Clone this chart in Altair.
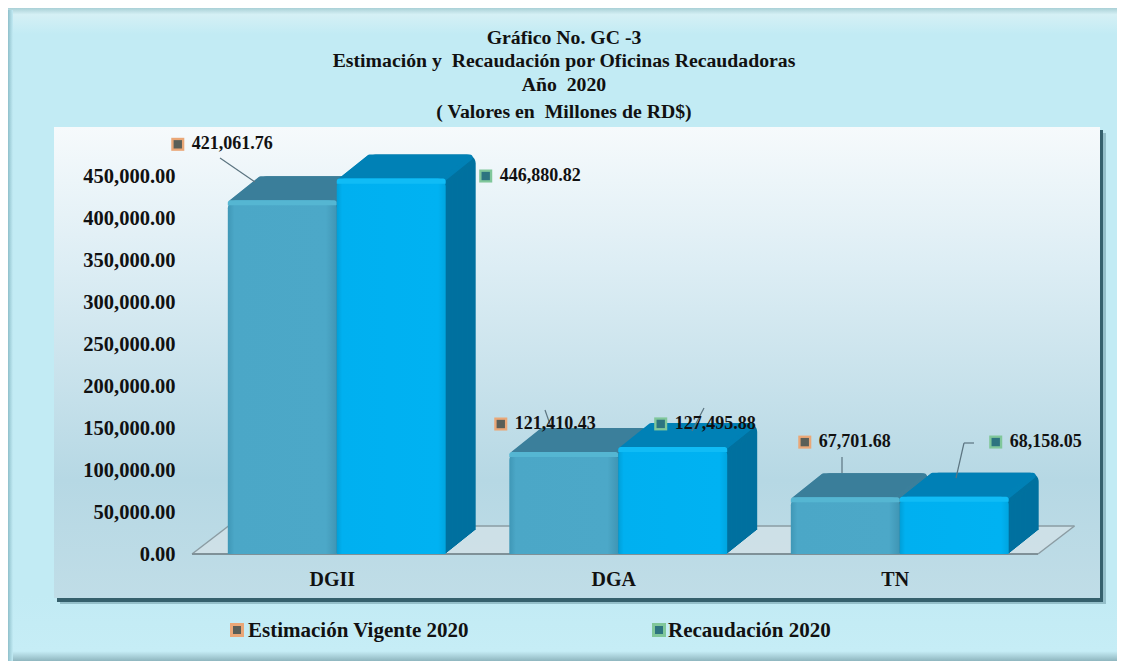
import altair as alt
import pandas as pd

categorias = ["DGII", "DGA", "TN"]
estimacion = [421061.76, 121410.43, 67701.68]
recaudacion = [446880.82, 127495.88, 68158.05]
series = ["Estimación Vigente 2020", "Recaudación 2020"]
titulo = ["Gráfico No. GC -3", "Estimación y \u00a0Recaudación por Oficinas Recaudadoras", "Año \u00a02020", "( Valores en \u00a0Millones de RD$)"]
ticks_y = [0, 50000, 100000, 150000, 200000, 250000, 300000, 350000, 400000, 450000]

ANCHO = 0.387  # bar width as a share of a category
rows = []
for i, (c, e, r) in enumerate(zip(categorias, estimacion, recaudacion)):
    m = i + 0.5
    rows.append({"cat": c, "serie": series[0], "valor": e, "cero": 0, "ini": m - ANCHO, "fin": m, "centro": m - ANCHO / 2})
    rows.append({"cat": c, "serie": series[1], "valor": r, "cero": 0, "ini": m, "fin": m + ANCHO, "centro": m + ANCHO / 2})
df = pd.DataFrame(rows)
uno = pd.DataFrame({"a": [0]})

FONT = "Liberation Serif"
L, T = 196, 176
W, H = 844.5, 378
PX = lambda v: v - L
PY = lambda v: v - T

etq_expr = "[" + ",".join(f"'{c}'" for c in categorias) + "][floor(datum.value)]"
x_scale = alt.Scale(domain=[0, 3], nice=False, zero=False)
y_scale = alt.Scale(domain=[0, 450000], nice=False)
x_axis = alt.Axis(values=[0.5, 1.5, 2.5], labelExpr=etq_expr, domain=False, ticks=False, grid=False, labelAngle=0,
                  labelFont=FONT, labelFontWeight="bold", labelFontSize=20, labelColor="#111111",
                  labelPadding=15, labelOffset=-5, zindex=1)
y_axis = alt.Axis(values=ticks_y, format=",.2f", domain=False, ticks=False, grid=False,
                  labelFont=FONT, labelFontWeight="bold", labelFontSize=20.5, labelColor="#111111",
                  labelPadding=21, zindex=1)
base = alt.Chart(df).encode(x=alt.X("ini:Q", title=None, scale=x_scale, axis=x_axis), x2="fin:Q",
                            y=alt.Y("valor:Q", title=None, scale=y_scale, axis=y_axis))
etq_base = alt.Chart(df).encode(x=alt.X("centro:Q", title=None, scale=x_scale, axis=x_axis),
                                y=alt.Y("valor:Q", title=None, scale=y_scale, axis=y_axis))


def rect(x0, x1, y0, y1, fill, **kw):
    return alt.Chart(uno).mark_rect(fill=fill, **kw).encode(
        x=alt.value(PX(x0)), x2=alt.value(PX(x1)), y=alt.value(PY(y0)), y2=alt.value(PY(y1)))


def vgrad(stops):
    return alt.Gradient(gradient="linear", x1=0, y1=0, x2=0, y2=1,
                        stops=[alt.GradientStop(offset=o, color=c) for o, c in stops])


def hgrad(stops):
    return alt.Gradient(gradient="linear", x1=0, y1=0, x2=1, y2=0,
                        stops=[alt.GradientStop(offset=o, color=c) for o, c in stops])


def line(x0, y0, x1, y1, color="#5b7480", w=1.2):
    return alt.Chart(uno).mark_rule(color=color, strokeWidth=w).encode(
        x=alt.value(PX(x0)), x2=alt.value(PX(x1)), y=alt.value(PY(y0)), y2=alt.value(PY(y1)))


def text(s, x, y, size, align="center"):
    return alt.Chart(uno).mark_text(text=s, font=FONT, fontWeight="bold", fontSize=size,
                                    align=align, baseline="middle", color="#111111").encode(
        x=alt.value(PX(x)), y=alt.value(PY(y)))


layers = []
# Outer frame
layers.append(rect(8, 1117, 8, 661, vgrad([(0, "#a9d0d6"), (0.01, "#d5f0f5"), (0.04, "#c2ebf4"),
                                           (0.9, "#c2ebf4"), (0.985, "#c6edf6"), (1, "#8fb6bf")])))
layers.append(rect(8, 13, 10, 661, hgrad([(0, "#8fc0cb"), (1, "#c2ebf4")])))
# Panel shadow and panel
layers.append(rect(60, 1106, 133, 604, "#6f9aa5", opacity=0.55))
layers.append(rect(57, 1103, 130, 602, "#35606c"))
layers.append(rect(54, 1100, 127, 598, vgrad([(0, "#f6fafc"), (0.3, "#dcedf4"), (0.75, "#b6d8e4"), (1, "#c0dde7")])))

# Floor
for i in range(28):
    k = i * 36.5 / 28
    layers.append(line(192 + k, 554 - i, 1038 + k, 554 - i, "#d3e2e7", 1.2))
layers.append(line(192, 554, 228.5, 526, "#8b9ca3", 1.5))
layers.append(line(1038, 554, 1074.5, 526, "#8b9ca3", 1.5))
layers.append(line(228.5, 526, 1074.5, 526, "#8b9ca3", 1.5))
layers.append(line(192, 554, 1038, 554, "#7f9198", 2))

estilos = {
    series[0]: dict(side="#32748f", top="#3b7f9b",
                    front=hgrad([(0, "#3f97b6"), (0.06, "#4ba7c7"), (0.9, "#4ca8c8"), (1, "#3f95b4")]),
                    rim="#55b6d2"),
    series[1]: dict(side="#00719f", top="#0081b6",
                    front=hgrad([(0, "#009fd8"), (0.05, "#00b0f0"), (0.93, "#00b2f2"), (1, "#00a5e0")]),
                    rim="#10bcf6"),
}
N = 24
for s in series:
    st = estilos[s]
    b = base.transform_filter(alt.datum.serie == s)
    for i in range(N, 0, -1):
        dx = i * 1.25
        layers.append(b.mark_bar(color=st["side"], cornerRadiusTopLeft=9, cornerRadiusTopRight=9,
                                 xOffset=dx, x2Offset=dx, yOffset=-i, y2Offset=-i).encode(y2="cero:Q"))
    for i in range(N, 0, -1):
        dx = i * 1.25
        layers.append(b.transform_calculate(low="datum.valor - 7000")
                      .mark_bar(color=st["top"], cornerRadius=5, xOffset=dx, x2Offset=dx - 3, yOffset=-i,
                                y2Offset=-i).encode(y2="low:Q"))
    layers.append(b.mark_bar(color=st["front"], cornerRadiusTopLeft=8, cornerRadiusTopRight=8).encode(y2="cero:Q"))
    layers.append(b.transform_calculate(low="datum.valor - 6000")
                  .mark_bar(color=st["rim"], cornerRadiusTopLeft=8, cornerRadiusTopRight=8).encode(y2="low:Q"))

# Leader lines
layers += [
    line(220, 158, 255, 182),
    line(545, 410, 552, 430),
    line(704, 408, 692, 431),
    line(842, 457, 842, 473),
    line(974, 443, 964, 443),
    line(964, 443, 956, 478),
]

# Value labels
desplaz = {
    ("DGII", series[0]): (-90.5, -56), ("DGII", series[1]): (108.5, -2.6),
    ("DGA", series[0]): (-49, -28), ("DGA", series[1]): (2, -23),
    ("TN", series[0]): (-26.5, -55), ("TN", series[1]): (55.5, -54.7),
}
color_key = {series[0]: ("#eaa777", "#5a5f58"), series[1]: ("#80c79a", "#2d7480")}
for (c, s), (dx, dy) in desplaz.items():
    b = etq_base.transform_filter((alt.datum.cat == c) & (alt.datum.serie == s))
    layers.append(b.transform_calculate(etq="format(datum.valor, ',.2f')")
                  .mark_text(font=FONT, fontWeight="bold", fontSize=18, align="left", baseline="middle",
                             color="#111111", dx=dx, dy=dy).encode(text="etq:N"))
    layers.append(b.mark_square(size=170, opacity=1, color=color_key[s][0], xOffset=dx - 14, yOffset=dy))
    layers.append(b.mark_square(size=70, opacity=1, color=color_key[s][1], xOffset=dx - 14, yOffset=dy))

# Title
for s, yy in zip(titulo, [38, 61, 85, 112]):
    layers.append(text(s, 564, yy, 19.75))

# Legend
for s, xk, xt in zip(series, [237, 659], [248, 668]):
    layers.append(rect(xk - 7, xk + 7, 623, 637, color_key[s][0]))
    layers.append(rect(xk - 4, xk + 4, 626, 634, color_key[s][1]))
    layers.append(text(s, xt, 631, 21, "left"))

chart = alt.layer(*layers).properties(
    width=W, height=H,
    autosize=alt.AutoSizeParams(type="none"),
    padding={"left": L - 8, "top": T - 8, "right": 1109 - (L - 8) - W, "bottom": 653 - (T - 8) - H},
    background="white",
).resolve_scale(x="shared", y="shared").configure_view(stroke=None)

chart.save("out.html", embed_options={"renderer": "svg", "actions": False})
